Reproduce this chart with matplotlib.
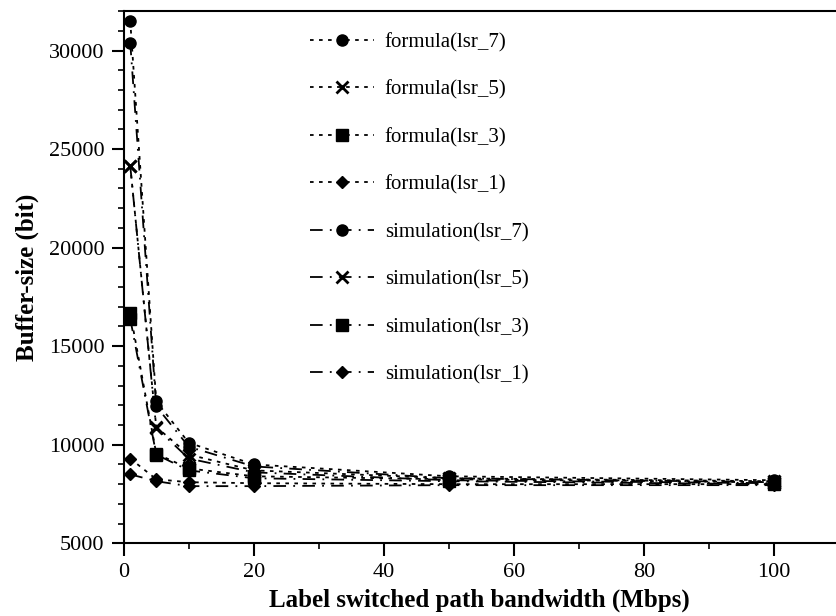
import matplotlib
matplotlib.use("Agg")
import matplotlib.pyplot as plt
from matplotlib.ticker import MultipleLocator

plt.rcParams['font.family'] = ['Liberation Serif', 'DejaVu Serif']

# bandwidth (Mbps)
bandwidth = [1, 5, 10, 20, 50, 100]

# buffer size (bit)
formula_lsr7 = [31500, 12200, 10100, 9000, 8400, 8200]
formula_lsr5 = [24150, 10900, 9500, 8700, 8300, 8150]
formula_lsr3 = [16700, 9550, 8800, 8400, 8250, 8100]
formula_lsr1 = [9300, 8250, 8100, 8050, 8000, 8000]
sim_lsr7 = [30400, 11950, 9900, 8900, 8300, 8100]
sim_lsr5 = [24150, 10850, 9300, 8600, 8200, 8050]
sim_lsr3 = [16400, 9500, 8700, 8300, 8150, 8000]
sim_lsr1 = [8500, 8150, 7900, 7900, 7950, 7950]

formula_series = [("formula(lsr_7)", formula_lsr7, "o"),
                  ("formula(lsr_5)", formula_lsr5, "x"),
                  ("formula(lsr_3)", formula_lsr3, "s"),
                  ("formula(lsr_1)", formula_lsr1, "D")]
sim_series = [("simulation(lsr_7)", sim_lsr7, "o"),
              ("simulation(lsr_5)", sim_lsr5, "x"),
              ("simulation(lsr_3)", sim_lsr3, "s"),
              ("simulation(lsr_1)", sim_lsr1, "D")]

marker_size = {"o": 8, "x": 9, "s": 8.5, "D": 6.5}

fig = plt.figure(figsize=(8.36, 6.16), dpi=100)
ax = fig.add_axes([0.148, 0.118, 0.852, 0.864])

for label, vals, m in formula_series:
    ax.plot(bandwidth, vals, color="black", lw=1.3, linestyle=(0, (2, 3)),
            marker=m, markersize=marker_size[m], markeredgewidth=2 if m == "x" else 1,
            label=label)
for label, vals, m in sim_series:
    ax.plot(bandwidth, vals, color="black", lw=1.3, linestyle=(0, (7, 4, 1, 4)),
            marker=m, markersize=marker_size[m], markeredgewidth=2 if m == "x" else 1,
            label=label)

ax.set_xlim(0, 109.5)
ax.set_ylim(5000, 32000)
ax.xaxis.set_major_locator(MultipleLocator(20))
ax.xaxis.set_minor_locator(MultipleLocator(10))
ax.yaxis.set_major_locator(MultipleLocator(5000))
ax.yaxis.set_minor_locator(MultipleLocator(1000))
ax.tick_params(which="major", direction="out", length=9, width=1.5, labelsize=16, pad=5)
ax.tick_params(which="minor", direction="out", length=4, width=1.2)
ax.spines["right"].set_visible(False)
for s in ["left", "bottom", "top"]:
    ax.spines[s].set_linewidth(1.5)

ax.set_xlabel("Label switched path bandwidth (Mbps)", fontsize=18, fontweight="bold", labelpad=5)
ax.set_ylabel("Buffer-size (bit)", fontsize=18, fontweight="bold", labelpad=7)

ax.legend(loc="upper left", bbox_to_anchor=(0.235, 0.995), frameon=False,
          fontsize=15, handlelength=3.1, labelspacing=1.34, handletextpad=0.5)

fig.savefig("out.png", dpi=100)
